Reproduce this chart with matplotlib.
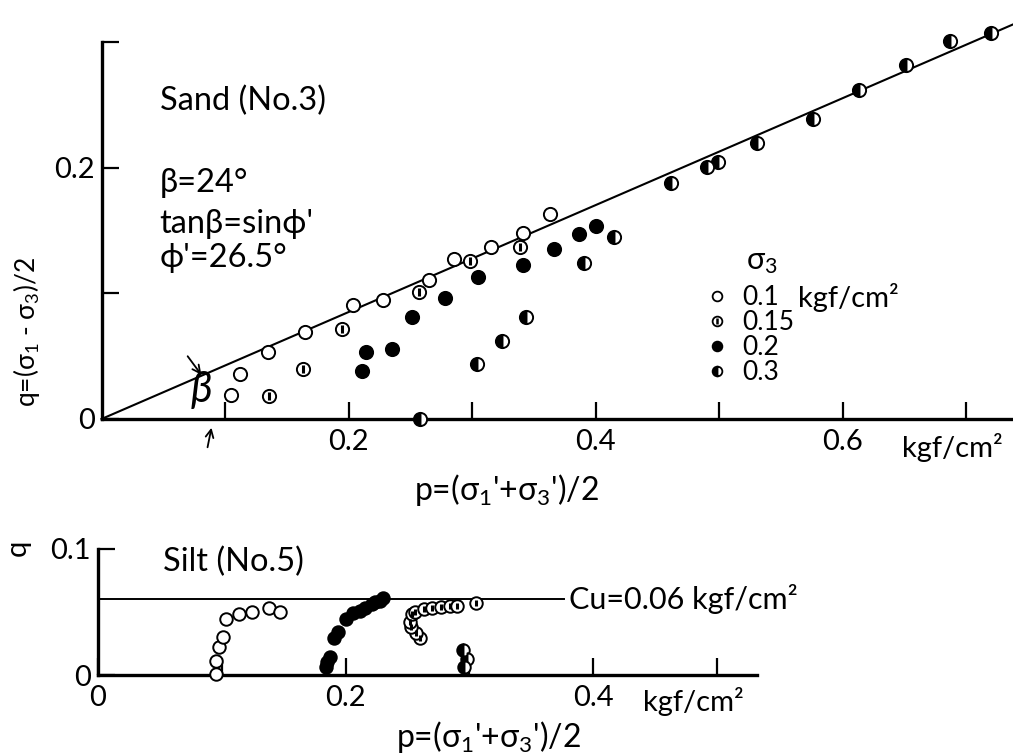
import matplotlib
matplotlib.use("Agg")
import matplotlib.pyplot as plt
from matplotlib.lines import Line2D

plt.rcParams['font.family'] = ['Lato', 'DejaVu Sans']
plt.rcParams['mathtext.fontset'] = 'dejavusans'

# --- Sand (No.3): p, q in kgf/cm2 for each sigma3 ---
sand_p_01 = [0.105, 0.112, 0.135, 0.165, 0.204, 0.228, 0.265, 0.285, 0.315, 0.341, 0.363]
sand_q_01 = [0.019, 0.036, 0.053, 0.069, 0.091, 0.095, 0.111, 0.127, 0.137, 0.148, 0.163]
sand_p_015 = [0.136, 0.163, 0.195, 0.257, 0.298, 0.339]
sand_q_015 = [0.018, 0.040, 0.072, 0.101, 0.126, 0.137]
sand_p_02 = [0.211, 0.214, 0.235, 0.251, 0.278, 0.305, 0.341, 0.366, 0.387, 0.400]
sand_q_02 = [0.038, 0.053, 0.056, 0.081, 0.096, 0.113, 0.123, 0.135, 0.147, 0.154]
sand_p_03 = [0.258, 0.304, 0.324, 0.344, 0.391, 0.415, 0.461, 0.490, 0.499, 0.531,
             0.576, 0.613, 0.651, 0.687, 0.720]
sand_q_03 = [0.0, 0.044, 0.062, 0.081, 0.124, 0.145, 0.188, 0.201, 0.205, 0.220,
             0.239, 0.262, 0.282, 0.301, 0.307]
# failure line (beta = 24 deg)
line_p = [0, 0.74]
line_q = [0, 0.315]

# --- Silt (No.5) ---
silt_p_a = [0.095, 0.095, 0.098, 0.101, 0.103, 0.114, 0.124, 0.138, 0.147]
silt_q_a = [0.001, 0.011, 0.022, 0.030, 0.044, 0.048, 0.050, 0.053, 0.050]
silt_p_b = [0.184, 0.185, 0.187, 0.191, 0.194, 0.200, 0.206, 0.212, 0.216, 0.221, 0.224, 0.228, 0.230]
silt_q_b = [0.006, 0.010, 0.014, 0.029, 0.034, 0.044, 0.049, 0.051, 0.053, 0.056, 0.058, 0.059, 0.061]
silt_p_c = [0.260, 0.257, 0.253, 0.252, 0.254, 0.256, 0.263, 0.270, 0.277, 0.284, 0.290, 0.305]
silt_q_c = [0.029, 0.033, 0.038, 0.042, 0.048, 0.050, 0.052, 0.053, 0.054, 0.055, 0.055, 0.057]
silt_p_d = [0.295, 0.298, 0.296]
silt_q_d = [0.020, 0.013, 0.006]
cu_p = [0, 0.376]
cu_q = [0.06, 0.06]

W, H = 1013, 756
def fx(px):
    return px / W
def fy(py):
    return 1 - py / H

MS = 9.5
MEW = 1.4
FS = 21

def open_pts(ax, p, q, ms=MS):
    ax.plot(p, q, 'o', ms=ms, mfc='white', mec='black', mew=MEW, clip_on=False, zorder=3)

def bar_pts(ax, p, q, ms=MS):
    open_pts(ax, p, q, ms)
    ax.plot(p, q, '|', ms=ms * 0.55, mec='black', mew=2.2, clip_on=False, zorder=4)

def full_pts(ax, p, q, ms=MS):
    ax.plot(p, q, 'o', ms=ms, mfc='black', mec='black', mew=MEW, clip_on=False, zorder=3)

def half_pts(ax, p, q, ms=MS):
    ax.plot(p, q, 'o', ms=ms, fillstyle='left', mfc='black', mfcalt='white',
            mec='black', mew=MEW, clip_on=False, zorder=3)

def style_axes(ax):
    for s in ['top', 'right']:
        ax.spines[s].set_visible(False)
    for s in ['left', 'bottom']:
        ax.spines[s].set_linewidth(2.4)
    ax.tick_params(direction='in', length=12, width=1.6, labelsize=FS, pad=7)

fig = plt.figure(figsize=(10.13, 7.56), dpi=100)

# ---------------- top panel: sand ----------------
ax1 = fig.add_axes([fx(101.5), fy(419), fx(1013) - fx(101.5), fy(42.2) - fy(419)])
ax1.set_xlim(0, 0.738)
ax1.set_ylim(0, 0.3)
style_axes(ax1)
ax1.set_xticks([0.1, 0.2, 0.3, 0.4, 0.5, 0.6, 0.7], ['', '0.2', '', '0.4', '', '0.6', ''])
ax1.set_yticks([0, 0.1, 0.2, 0.3], ['0', '', '0.2', ''])
ax1.tick_params(axis='y', pad=5)

ax1.plot(line_p, line_q, color='black', lw=1.5, zorder=2, clip_on=False)
open_pts(ax1, sand_p_01, sand_q_01)
bar_pts(ax1, sand_p_015, sand_q_015)
full_pts(ax1, sand_p_02, sand_q_02)
half_pts(ax1, sand_p_03, sand_q_03)

ax1.text(0.047, 0.253, 'Sand (No.3)', fontsize=23.5, va='center')
ax1.text(0.047, 0.188, 'β=24°', fontsize=23.5, va='center')
ax1.text(0.047, 0.155, "tanβ=sinϕ'", fontsize=23.5, va='center')
ax1.text(0.047, 0.128, "ϕ'=26.5°", fontsize=23.5, va='center')
fig.text(fx(201), fy(390), 'β', fontsize=30, style='italic', ha='center', va='center')
fig.text(fx(952), fy(448), 'kgf/cm²', fontsize=FS, ha='center', va='center')

ax1.annotate('', xy=(fx(203), fy(377)), xytext=(fx(186), fy(354)),
             xycoords='figure fraction', textcoords='figure fraction',
             arrowprops=dict(arrowstyle='->', lw=1.3, color='black', mutation_scale=14))
ax1.annotate('', xy=(fx(212), fy(425)), xytext=(fx(207), fy(450)),
             xycoords='figure fraction', textcoords='figure fraction',
             arrowprops=dict(arrowstyle='->', lw=1.3, color='black', mutation_scale=14))

fig.text(fx(27), fy(332), r"q=($\mathregular{\sigma_1}$ - $\mathregular{\sigma_3}$)/2",
         rotation=90, fontsize=19, ha='center', va='center')
fig.text(fx(506), fy(490), r"p=($\mathregular{\sigma_1}$'+$\mathregular{\sigma_3}$')/2",
         fontsize=23, ha='center', va='center')

# legend
lh01 = Line2D([], [], marker='o', ls='none', ms=7, mfc='white', mec='black', mew=1.3)
lh015a = Line2D([], [], marker='o', ls='none', ms=7, mfc='white', mec='black', mew=1.3)
lh015b = Line2D([], [], marker='|', ls='none', ms=4, mec='black', mew=1.8)
lh02 = Line2D([], [], marker='o', ls='none', ms=7, mfc='black', mec='black', mew=1.3)
lh03 = Line2D([], [], marker='o', ls='none', ms=7, fillstyle='left', mfc='black',
              mfcalt='white', mec='black', mew=1.3)
leg = ax1.legend([lh01, (lh015a, lh015b), lh02, lh03], ['0.1', '0.15', '0.2', '0.3'],
                 fontsize=19, frameon=False, loc='upper left',
                 bbox_to_anchor=(fx(705), fy(285)), bbox_transform=fig.transFigure,
                 labelspacing=0.0, handlelength=0.9, handletextpad=0.5,
                 borderaxespad=0, borderpad=0)
fig.text(fx(762), fy(262), r'$\mathregular{\sigma_3}$', fontsize=22, ha='center', va='center')
fig.text(fx(798), fy(298), 'kgf/cm²', fontsize=FS, va='center')

# ---------------- bottom panel: silt ----------------
ax2 = fig.add_axes([fx(98), fy(675), fx(756.7) - fx(98), fy(548.8) - fy(675)])
ax2.set_xlim(0, 0.532)
ax2.set_ylim(0, 0.1)
style_axes(ax2)
ax2.set_xticks([0, 0.1, 0.2, 0.3, 0.4, 0.5], ['0', '', '0.2', '', '0.4', ''])
ax2.set_yticks([0, 0.1], ['0', '0.1'])
ax2.tick_params(axis='y', pad=5)

ax2.plot(cu_p, cu_q, color='black', lw=1.4, zorder=2)
open_pts(ax2, silt_p_a, silt_q_a, ms=9)
full_pts(ax2, silt_p_b, silt_q_b, ms=9)
bar_pts(ax2, silt_p_c, silt_q_c, ms=9)
half_pts(ax2, silt_p_d, silt_q_d, ms=9)

ax2.text(0.0525, 0.0895, 'Silt (No.5)', fontsize=23.5, va='center')
ax2.text(0.380, 0.060, 'Cu=0.06 kgf/cm²', fontsize=22, va='center')
fig.text(fx(18), fy(548), 'q', rotation=90, fontsize=FS, ha='center', va='center')
fig.text(fx(693), fy(702), 'kgf/cm²', fontsize=FS, ha='center', va='center')
fig.text(fx(488), fy(737), r"p=($\mathregular{\sigma_1}$'+$\mathregular{\sigma_3}$')/2",
         fontsize=23, ha='center', va='center')

fig.savefig('out.png', dpi=100)
